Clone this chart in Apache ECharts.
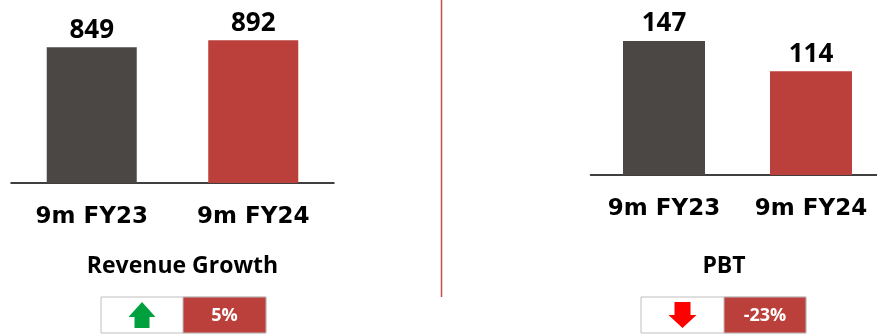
<!DOCTYPE html>
<html>
<head>
<meta charset="utf-8">
<title>Revenue Growth and PBT</title>
<script src="https://cdn.jsdelivr.net/npm/echarts@6/dist/echarts.min.js"></script>
<style>
  html, body { margin: 0; padding: 0; background: #ffffff; overflow: hidden; }
  /* The right-hand panel's baseline runs past the window edge */
  #chart { width: 885px; height: 334px; }
</style>
</head>
<body>
<div id="chart"></div>
<script>
// Periods compared in both panels
const categories = ['9m FY23', '9m FY24'];
// Revenue for each period
const revenueValues = [849, 892];
// Profit before tax for each period
const pbtValues = [147, 114];
// Panel captions
const panelTitles = ['Revenue Growth', 'PBT'];
// Year-on-year change shown in the badges
const changeLabels = ['5%', '-23%'];
const changeDirections = ['up', 'down'];

const GREY = '#4b4745';
const RED = '#bb3f3a';
const VALUE_FONT = '"Open Sans", "Noto Sans", sans-serif';
const AXIS_FONT = '"DejaVu Sans", sans-serif';

const chart = echarts.init(document.getElementById('chart'), null, { renderer: 'canvas' });

function barSeries(values, axisIndex) {
  return {
    type: 'bar',
    xAxisIndex: axisIndex,
    yAxisIndex: axisIndex,
    barWidth: axisIndex === 0 ? 90 : 82,
    silent: true,
    data: values.map((v, i) => ({
      value: v,
      itemStyle: { color: i === 0 ? GREY : RED }
    })),
    label: {
      show: true,
      position: 'top',
      distance: 4,
      color: '#000',
      fontFamily: VALUE_FONT,
      fontWeight: 'bold',
      fontSize: 26
    }
  };
}

function categoryAxis(gridIndex) {
  return {
    type: 'category',
    gridIndex: gridIndex,
    data: categories,
    axisLine: { show: true, lineStyle: { color: '#000', width: 1.5 } },
    axisTick: { show: false },
    axisLabel: {
      interval: 0,
      hideOverlap: false,
      color: '#000',
      fontFamily: AXIS_FONT,
      fontWeight: 'bold',
      fontSize: 23,
      margin: 23
    }
  };
}

function valueAxis(gridIndex, max) {
  return {
    type: 'value',
    gridIndex: gridIndex,
    min: 0,
    max: max,
    show: false,
    splitLine: { show: false }
  };
}

// Change badge: white box with an arrow, red box with the percentage
function badge(x, split, right, text, direction) {
  const top = 297, bottom = 333;
  const cx = (x + split) / 2;
  const arrow = direction === 'up'
    ? {
        points: [[cx, 302], [cx + 13.5, 317], [cx + 7.5, 317], [cx + 7.5, 328],
                 [cx - 7.5, 328], [cx - 7.5, 317], [cx - 13.5, 317]],
        fill: '#00a03e'
      }
    : {
        points: [[cx - 8, 302], [cx + 8, 302], [cx + 8, 315], [cx + 14, 315],
                 [cx, 328], [cx - 14, 315], [cx - 8, 315]],
        fill: '#ff0000'
      };
  return [
    {
      type: 'rect',
      shape: { x: x, y: top, width: right - x, height: bottom - top },
      style: { fill: '#ffffff', stroke: '#bfbfbf', lineWidth: 1 }
    },
    {
      type: 'rect',
      shape: { x: split, y: top, width: right - split, height: bottom - top },
      style: { fill: RED, stroke: '#bfbfbf', lineWidth: 1 }
    },
    {
      type: 'polygon',
      shape: { points: arrow.points },
      style: { fill: arrow.fill }
    },
    {
      type: 'text',
      x: (split + right) / 2,
      y: 316,
      style: {
        text: text,
        fill: '#ffffff',
        font: 'bold 18px ' + VALUE_FONT,
        textAlign: 'center',
        textVerticalAlign: 'middle'
      }
    }
  ];
}

const option = {
  animation: false,
  backgroundColor: '#ffffff',
  grid: [
    { left: 11, width: 323, top: 23, height: 160 },
    { left: 590.5, width: 294, top: 11, height: 164 }
  ],
  xAxis: [categoryAxis(0), categoryAxis(1)],
  yAxis: [valueAxis(0, 1000), valueAxis(1, 180)],
  series: [barSeries(revenueValues, 0), barSeries(pbtValues, 1)],
  graphic: [
    {
      type: 'line',
      shape: { x1: 441.5, y1: 0, x2: 441.5, y2: 297 },
      style: { stroke: '#c0504d', lineWidth: 1.5 }
    },
    {
      type: 'text',
      x: 182.5,
      y: 266,
      style: {
        text: panelTitles[0],
        fill: '#000',
        font: 'bold 23px ' + VALUE_FONT,
        textAlign: 'center',
        textVerticalAlign: 'middle'
      }
    },
    {
      type: 'text',
      x: 724,
      y: 266,
      style: {
        text: panelTitles[1],
        fill: '#000',
        font: 'bold 23px ' + VALUE_FONT,
        textAlign: 'center',
        textVerticalAlign: 'middle'
      }
    },
    ...badge(101, 183, 266, changeLabels[0], changeDirections[0]),
    ...badge(641, 724, 806, changeLabels[1], changeDirections[1])
  ]
};

chart.setOption(option);
</script>
</body>
</html>
